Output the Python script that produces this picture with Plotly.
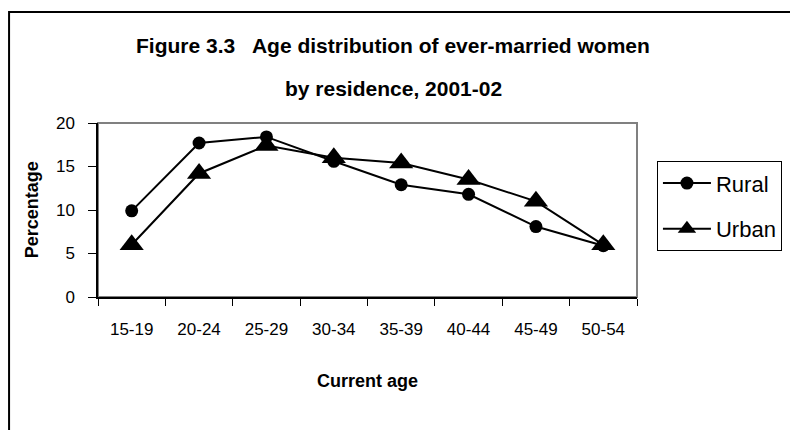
import plotly.graph_objects as go

ages = ['15-19', '20-24', '25-29', '30-34', '35-39', '40-44', '45-49', '50-54']
rural = [9.9, 17.7, 18.4, 15.6, 12.9, 11.8, 8.1, 5.9]
urban = [6.0, 14.2, 17.4, 16.0, 15.4, 13.5, 11.0, 6.0]
y_ticks = [0, 5, 10, 15, 20]

FONT = 'Liberation Sans, Arial, sans-serif'

fig = go.Figure()
fig.add_trace(go.Scatter(
    x=ages, y=rural, name='Rural', mode='lines+markers', legendgroup='r',
    line=dict(color='black', width=2),
    marker=dict(symbol='circle', size=13, color='black'),
    cliponaxis=False,
))
fig.add_trace(go.Scatter(
    x=ages, y=urban, name='Urban', mode='lines+markers', legendgroup='u',
    line=dict(color='black', width=2),
    marker=dict(symbol='triangle-up', size=21, color='black'),
    cliponaxis=False,
))

# plot area frame (grey top/right) and outer chart border
fig.add_shape(type='rect', xref='paper', yref='paper', x0=0, x1=1, y0=0, y1=1,
              line=dict(color='#808080', width=2), layer='below')
fig.add_shape(type='rect', xref='paper', yref='paper', x0=-0.165, x1=1.45, y0=-1.2, y1=1.638,
              line=dict(color='black', width=2), layer='below')

fig.add_annotation(text='<b>Figure 3.3   Age distribution of ever-married women</b>',
                   xref='paper', yref='paper', x=0.548, y=1.448, showarrow=False,
                   font=dict(family=FONT, size=21, color='black'), xanchor='center', yanchor='middle')
fig.add_annotation(text='<b>by residence, 2001-02</b>',
                   xref='paper', yref='paper', x=0.548, y=1.201, showarrow=False,
                   font=dict(family=FONT, size=21, color='black'), xanchor='center', yanchor='middle')
fig.add_annotation(text='<b>Percentage</b>', textangle=-90,
                   xref='paper', yref='paper', x=-0.122, y=0.5, showarrow=False,
                   font=dict(family=FONT, size=18, color='black'), xanchor='center', yanchor='middle')
fig.add_annotation(text='<b>Current age</b>',
                   xref='paper', yref='paper', x=0.5, y=-0.485, showarrow=False,
                   font=dict(family=FONT, size=18, color='black'), xanchor='center', yanchor='middle')

fig.update_xaxes(
    type='category', range=[-0.5, 7.5], showgrid=False, zeroline=False,
    showline=True, linecolor='black', linewidth=2,
    ticks='outside', tickson='boundaries', ticklen=7, tickcolor='black', tickwidth=1,
    ticklabelstandoff=16,
    tickfont=dict(family=FONT, size=17, color='black'),
)
fig.update_yaxes(
    range=[0, 20], tickvals=y_ticks, showgrid=False, zeroline=False,
    showline=True, linecolor='black', linewidth=1.5,
    ticks='outside', ticklen=8, tickcolor='black', tickwidth=1,
    ticklabelstandoff=10,
    tickfont=dict(family=FONT, size=17, color='black'),
)

fig.update_layout(
    width=798, height=430,
    margin=dict(l=90, r=169, t=115, b=141),
    paper_bgcolor='white', plot_bgcolor='white',
    showlegend=True,
    legend=dict(
        x=1.037, y=0.78, xanchor='left', yanchor='top',
        bordercolor='black', borderwidth=1, bgcolor='white',
        font=dict(family=FONT, size=22, color='black'),
        itemwidth=48, tracegroupgap=14,
    ),
    font=dict(family=FONT, color='black'),
)

fig.write_html('out.html')
